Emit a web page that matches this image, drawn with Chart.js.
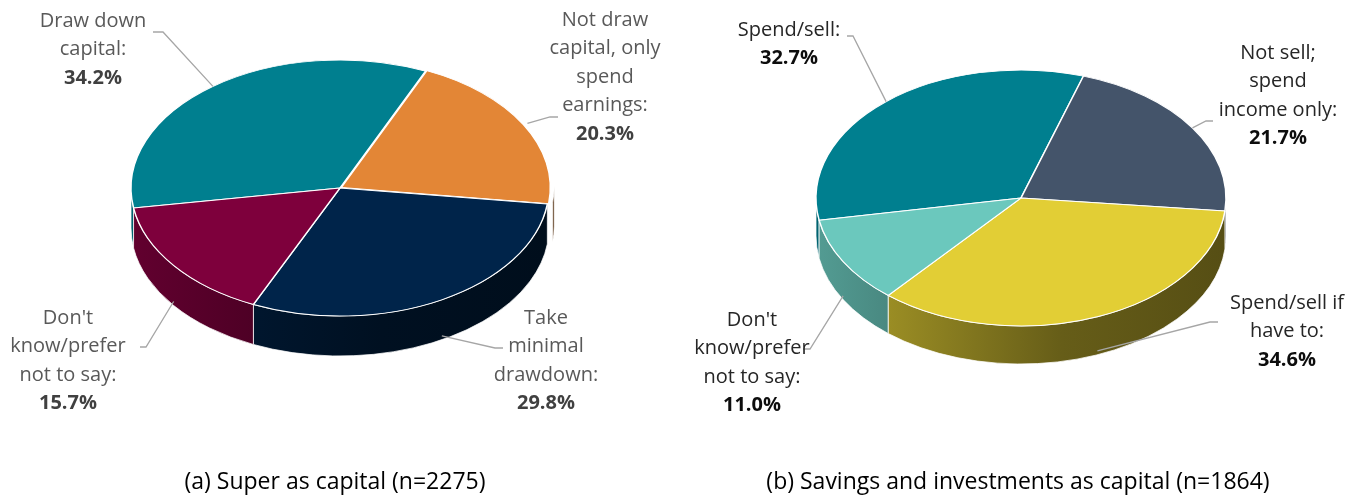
<!DOCTYPE html>
<html>
<head>
<meta charset="utf-8">
<script src="https://cdn.jsdelivr.net/npm/chart.js@4.4.1/dist/chart.umd.min.js"></script>
<style>
    body { margin: 0; background: #fff; }
    #wrap { position: relative; width: 1353px; height: 497px; overflow: hidden; }
    canvas { position: absolute; top: 0; }
    #superChart { left: 0; }
    #savingsChart { left: 676px; }
</style>
</head>
<body>
<div id="wrap">
    <canvas id="superChart" width="676" height="497"></canvas>
    <canvas id="savingsChart" width="677" height="497"></canvas>
</div>
<script>
// (a) super as capital
const superLabels = [['Draw down', 'capital:'], ['Not draw', 'capital, only', 'spend', 'earnings:'], ['Take', 'minimal', 'drawdown:'], ["Don't", 'know/prefer', 'not to say:']];
const superValues = [34.2, 20.3, 29.8, 15.7];
const superColors = ['#007f8f', '#e38636', '#00244a', '#7e003c'];
const superTitle = '(a) Super as capital (n=2275)';

// (b) savings and investments as capital
const savingsLabels = [['Spend/sell:'], ['Not sell;', 'spend', 'income only:'], ['Spend/sell if', 'have to:'], ["Don't", 'know/prefer', 'not to say:']];
const savingsValues = [32.7, 21.7, 34.6, 11.0];
const savingsColors = ['#007f8f', '#44546a', '#e2ce35', '#6bc8bd'];
const savingsTitle = '(b) Savings and investments as capital (n=1864)';

// where each pie sits inside its canvas and how its labels are placed
const superLayout = {
    cx: 340, cy: 188, rx: 209, ry: 128, depth: 40, rotation: -99, offsets: [0, 6, 0, 0],
    textColor: '#595959', pctColor: '#404040', captionX: 335,
    spots: [
        { x: 93, y: 21, lead: [[153, 32], [163, 32]] },
        { x: 605, y: 20, lead: [[558, 117], [550, 117]] },
        { x: 546, y: 318, lead: [[503, 348], [495, 348]] },
        { x: 68, y: 318, lead: [[140, 347], [146, 347]] }
    ]
};
const savingsLayout = {
    cx: 345, cy: 198, rx: 205, ry: 128, depth: 38, rotation: -100, offsets: [0, 0, 0, 0],
    textColor: '#262626', pctColor: '#0d0d0d', captionX: 342,
    spots: [
        { x: 113, y: 30, lead: [[171, 36], [177, 36]] },
        { x: 602, y: 53, lead: [[537, 121], [530, 121]] },
        { x: 611, y: 303, lead: [[542, 322], [534, 322]] },
        { x: 76, y: 320, lead: [[127, 349], [134, 349]] }
    ]
};

/** darker variant of a hex colour */
function shade(hex, k) {
    var n = parseInt(hex.slice(1), 16);
    var r = Math.round(((n >> 16) & 255) * k);
    var g = Math.round(((n >> 8) & 255) * k);
    var b = Math.round((n & 255) * k);
    return 'rgb(' + r + ',' + g + ',' + b + ')';
}

/**
 * draws the side wall under the front half of every slice,
 * then squashes the pie vertically so the top face becomes an ellipse */
const pie3d = {
    id: 'pie3d',
    beforeDatasetsDraw(chart, args, opts) {
        const ctx = chart.ctx;
        const meta = chart.getDatasetMeta(0);
        const sy = opts.ry / opts.rx;
        ctx.save();
        meta.data.forEach(function (arc) {
            const r = arc.outerRadius, ry = r * sy;
            const off = arc.options.offset || 0;
            const mid = (arc.startAngle + arc.endAngle) / 2;
            const ox = arc.x + Math.cos(mid) * off;
            const oy = arc.y + Math.sin(mid) * off * sy;
            for (let k = -1; k <= 2; k++) {
                const a = Math.max(arc.startAngle, 2 * Math.PI * k);
                const b = Math.min(arc.endAngle, 2 * Math.PI * k + Math.PI);
                if (b <= a) continue;
                ctx.beginPath();
                ctx.ellipse(ox, oy, r, ry, 0, a, b);
                ctx.ellipse(ox, oy + opts.depth, r, ry, 0, b, a, true);
                ctx.closePath();
                const g = ctx.createLinearGradient(arc.x - r, 0, arc.x + r, 0);
                g.addColorStop(0, shade(arc.options.backgroundColor, 0.78));
                g.addColorStop(0.6, shade(arc.options.backgroundColor, 0.45));
                g.addColorStop(1, shade(arc.options.backgroundColor, 0.38));
                ctx.fillStyle = g;
                ctx.fill();
                ctx.strokeStyle = 'rgba(255,255,255,0.75)';
                ctx.lineWidth = 1;
                ctx.stroke();
            }
        });
        ctx.restore();
        const c = meta.data[0];
        ctx.save();
        ctx.translate(c.x, c.y);
        ctx.scale(1, sy);
        ctx.translate(-c.x, -c.y);
    },
    afterDatasetsDraw(chart) {
        chart.ctx.restore();
    }
};

/** slice labels with leader lines, plus the caption under the pie */
const sliceLabels = {
    id: 'sliceLabels',
    afterDraw(chart, args, opts) {
        const ctx = chart.ctx;
        const meta = chart.getDatasetMeta(0);
        const values = chart.data.datasets[0].data;
        const sy = opts.ry / opts.rx;
        const lineH = 28.5;
        ctx.save();
        ctx.textAlign = 'center';
        ctx.textBaseline = 'middle';
        meta.data.forEach(function (arc, i) {
            const spot = opts.spots[i];
            const mid = (arc.startAngle + arc.endAngle) / 2;
            const r = arc.outerRadius + (arc.options.offset || 0);
            let ax = arc.x + Math.cos(mid) * r;
            let ay = arc.y + Math.sin(mid) * r * sy;
            if (Math.sin(mid) > 0) ay += opts.depth * 0.9;
            ctx.beginPath();
            ctx.moveTo(spot.lead[0][0], spot.lead[0][1]);
            for (let j = 1; j < spot.lead.length; j++) ctx.lineTo(spot.lead[j][0], spot.lead[j][1]);
            ctx.lineTo(ax, ay);
            ctx.strokeStyle = '#a6a6a6';
            ctx.lineWidth = 1.3;
            ctx.stroke();

            const lines = chart.data.labels[i];
            ctx.fillStyle = opts.textColor;
            ctx.font = '20px "Open Sans"';
            lines.forEach(function (t, j) {
                ctx.fillText(t, spot.x, spot.y + j * lineH);
            });
            ctx.fillStyle = opts.pctColor;
            ctx.font = 'bold 20px "Open Sans"';
            ctx.fillText(values[i].toFixed(1) + '%', spot.x, spot.y + lines.length * lineH);
        });
        ctx.fillStyle = '#000';
        ctx.font = '23px "Open Sans"';
        ctx.fillText(opts.caption, opts.captionX, 482);
        ctx.restore();
    }
};

function createPie(canvasId, labels, values, colors, caption, lay) {
    var canvas = document.getElementById(canvasId);
    var w = canvas.width, h = canvas.height;
    return new Chart(canvas, {
        type: 'pie',
        data: {
            labels: labels,
            datasets: [{
                data: values,
                backgroundColor: colors,
                borderColor: '#ffffff',
                borderWidth: 1.5,
                offset: lay.offsets,
                clip: false
            }]
        },
        options: {
            responsive: false,
            animation: false,
            devicePixelRatio: 1,
            radius: lay.rx,
            rotation: lay.rotation,
            layout: {
                padding: { left: lay.cx - 50, right: w - lay.cx - 50, top: lay.cy - 50, bottom: h - lay.cy - 50 }
            },
            plugins: {
                legend: { display: false },
                tooltip: { enabled: false },
                pie3d: { rx: lay.rx, ry: lay.ry, depth: lay.depth },
                sliceLabels: {
                    rx: lay.rx, ry: lay.ry, depth: lay.depth, spots: lay.spots,
                    textColor: lay.textColor, pctColor: lay.pctColor,
                    caption: caption, captionX: lay.captionX
                }
            }
        },
        plugins: [pie3d, sliceLabels]
    });
}

createPie('superChart', superLabels, superValues, superColors, superTitle, superLayout);
createPie('savingsChart', savingsLabels, savingsValues, savingsColors, savingsTitle, savingsLayout);
</script>
</body>
</html>
